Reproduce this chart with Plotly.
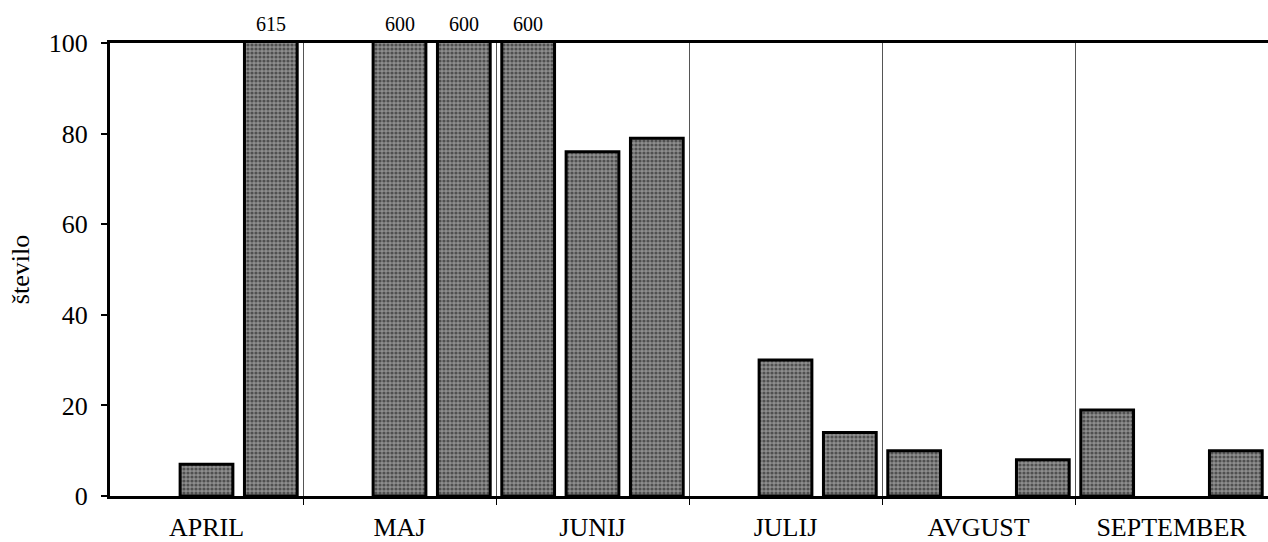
import plotly.graph_objects as go

months = ["APRIL", "MAJ", "JUNIJ", "JULIJ", "AVGUST", "SEPTEMBER"]
# three periods per month (None = no bar)
april = [None, 7, 615]
maj = [None, 600, 600]
junij = [600, 76, 79]
julij = [None, 30, 14]
avgust = [10, None, 8]
september = [19, None, 10]

values = april + maj + junij + julij + avgust + september
x = list(range(len(values)))
per_month = 3
ymax = 100

fig = go.Figure()
fig.add_trace(go.Bar(
    x=x, y=values,
    marker=dict(
        color="#808080",
        line=dict(color="black", width=3),
        pattern=dict(shape=".", fgcolor="#111111", bgcolor="#8e8e8e", size=4, solidity=0.5),
    ),
    hoverinfo="skip",
))

# value labels for bars exceeding the axis range
for xi, v in zip(x, values):
    if v is not None and v > ymax:
        fig.add_annotation(x=xi, y=ymax, text=str(v), showarrow=False,
                           yanchor="bottom", yshift=6,
                           font=dict(family="Liberation Serif", size=20, color="black"))

font = dict(family="Liberation Serif", color="black")
boundaries = [per_month * (i + 1) - 0.5 for i in range(len(months) - 1)]
fig.update_layout(
    width=1268, height=542,
    margin=dict(l=110, r=0, t=43, b=46),
    paper_bgcolor="white", plot_bgcolor="white",
    showlegend=False, bargap=0.18,
    font=font,
    xaxis=dict(
        range=[-0.5, len(values) - 0.5], automargin=False,
        tickmode="array",
        tickvals=[per_month * i + 1 for i in range(len(months))],
        ticktext=months,
        ticks="", showgrid=False, zeroline=False, ticklabelstandoff=6,
        showline=True, linecolor="black", linewidth=3, mirror=True,
        tickfont=dict(family="Liberation Serif", size=26, color="black"),
        minor=dict(tickmode="array", tickvals=boundaries, ticks="outside",
                   ticklen=6, tickwidth=1, tickcolor="black",
                   showgrid=True, gridcolor="#555555", gridwidth=1),
    ),
    yaxis=dict(
        range=[0, ymax], tickvals=[0, 20, 40, 60, 80, 100], automargin=False,
        ticks="outside", ticklen=6, tickwidth=1.5, tickcolor="black",
        ticklabelstandoff=8,
        showgrid=False, zeroline=False,
        showline=True, linecolor="black", linewidth=3, mirror=False,
        tickfont=dict(family="Liberation Serif", size=26, color="black"),
        title=dict(text="število", standoff=12,
                   font=dict(family="Liberation Serif", size=26, color="black")),
    ),
)

fig.write_html("out.html",
               config={"displayModeBar": False},
               post_script="document.body.style.margin='0';document.body.style.overflow='hidden';")
